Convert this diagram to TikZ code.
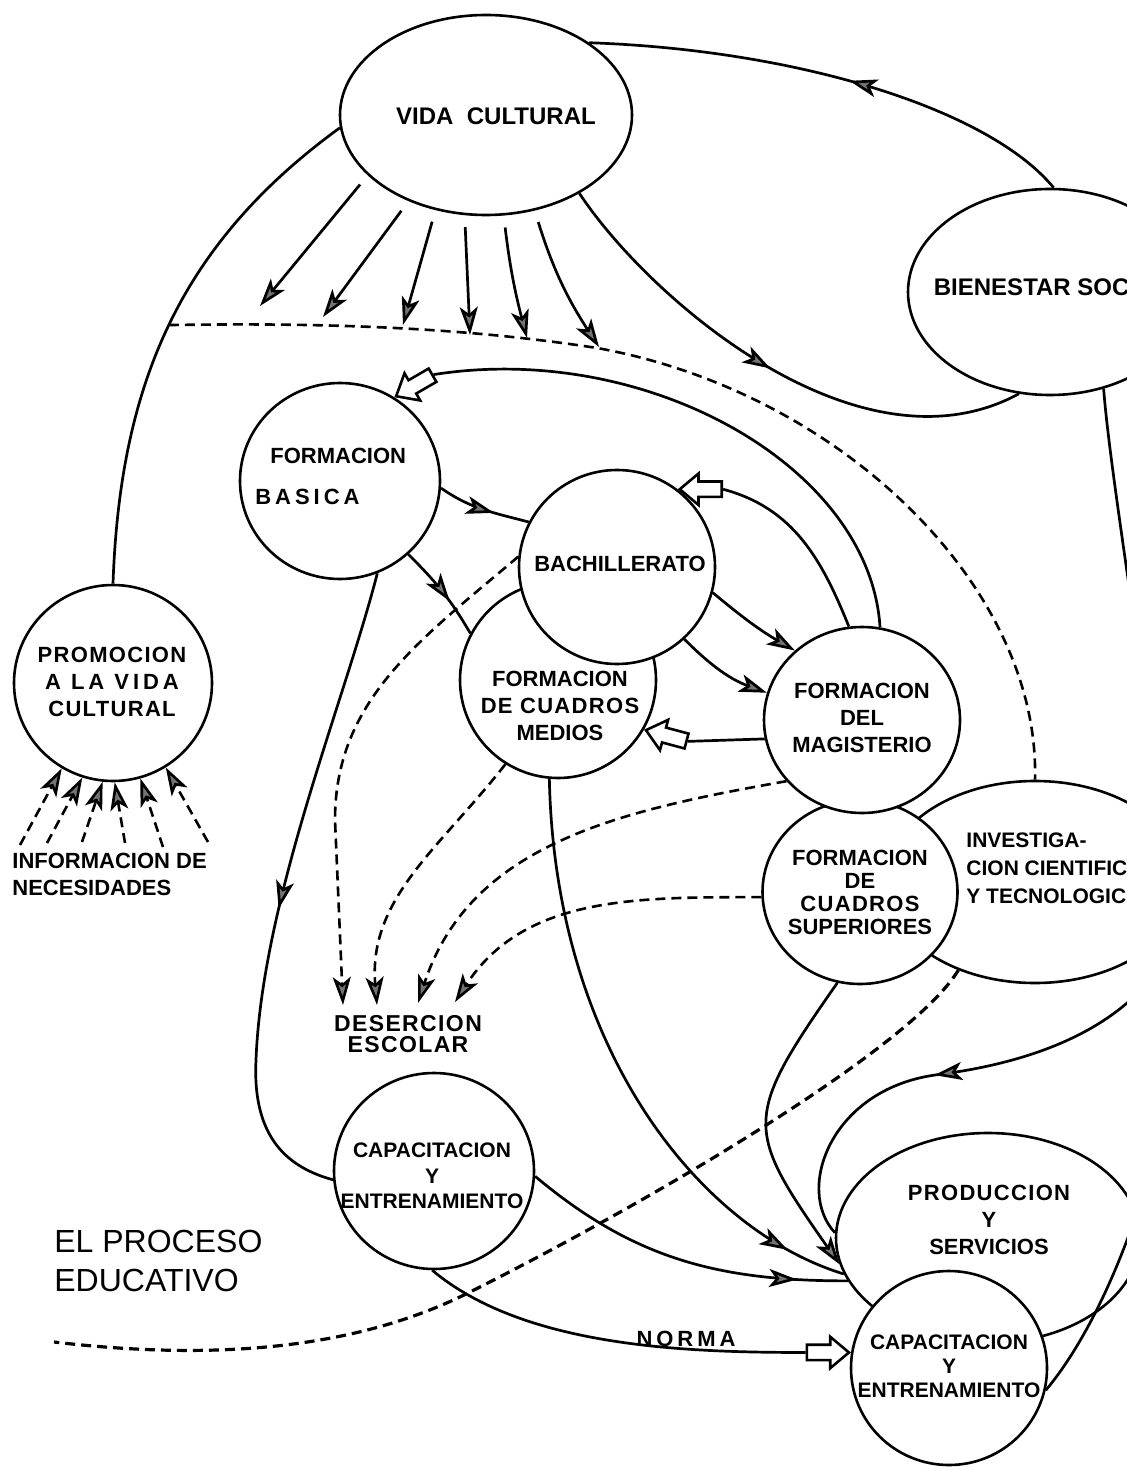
\documentclass[tikz,border=0pt]{standalone}
\usepackage{fontspec}
\setmainfont{Liberation Sans}
\newfontfamily\spacedfont[LetterSpace=6]{Liberation Sans}
\newfontfamily\widefont[LetterSpace=18]{Liberation Sans}
\usetikzlibrary{arrows.meta,shapes.geometric,shapes.arrows,decorations.markings}

\tikzset{
  circ/.style={draw, ellipse, line width=1.3pt, fill=white, inner sep=0pt},
  lbl/.style={inner sep=0pt, align=center, font=\fontsize{11}{13.5}\selectfont\bfseries},
  conn/.style={line width=1.35pt},
  dsh/.style={line width=1.3pt, dash pattern=on 5pt off 3pt},
  grarr/.tip={Stealth[length=14pt, width=9pt, inset=3.5pt, fill=black!55]},
  midarrow/.style={postaction={decorate}, decoration={markings, mark=at position #1 with {\arrow{grarr}}}},
  openarr/.style={draw, single arrow, fill=white, line width=1.3pt, inner xsep=0pt, inner ysep=3.2pt, minimum height=21pt, minimum width=0pt, single arrow head extend=4pt, single arrow tip angle=80}
}

\begin{document}
\begin{tikzpicture}[x=0.5pt, y=-0.5pt]
\useasboundingbox (0,0) rectangle (1127,1470);
\clip (0,0) rectangle (1127,1470);

\node[circ, minimum width=146pt, minimum height=100pt] (vida) at (486,115) {};
\node[circ, minimum width=142pt, minimum height=103pt] (bien) at (1050,292) {};
\node[circ, minimum width=100pt, minimum height=98pt] (basica) at (340,481) {};
\node[circ, minimum width=98pt, minimum height=98pt] (medios) at (558,680) {};
\node[circ, minimum width=98pt, minimum height=97pt] (bach) at (617,567) {};
\node[circ, minimum width=150pt, minimum height=101pt] (inv) at (1035,882) {};
\node[circ, minimum width=97.5pt, minimum height=92pt] (sup) at (860,892) {};
\node[circ, minimum width=98pt, minimum height=93pt] (mag) at (862,720) {};
\node[circ, minimum width=99pt, minimum height=98pt] (prom) at (113,683) {};
\node[circ, minimum width=100pt, minimum height=98pt] (capL) at (434,1171) {};
\node[circ, minimum width=152pt, minimum height=105pt] (prod) at (988,1238) {};
\node[circ, minimum width=98pt, minimum height=97pt] (capR) at (949,1368) {};

\node[lbl, font=\fontsize{12}{15}\selectfont\bfseries] (vidaT) at (496,116) {VIDA\ \ CULTURAL};
\node[lbl, font=\fontsize{12}{14}\selectfont\bfseries] (bienT) at (1051,287) {BIENESTAR SOCIAL};
\node[lbl, anchor=west, align=left] (basicaT) at (255,476) {\hspace*{7.5pt}FORMACION\\[7pt]{\widefont\bfseries BASICA}};
\node[lbl] (bachT) at (620,564) {BACHILLERATO};
\node[lbl] (mediosT) at (560,706) {FORMACION\\{\spacedfont\bfseries DE CUADROS}\\MEDIOS};
\node[lbl] (magT) at (862,718) {FORMACION\\DEL\\MAGISTERIO};
\node[lbl, font=\fontsize{11}{11.5}\selectfont\bfseries] (supT) at (860,892) {FORMACION\\DE\\{\spacedfont\bfseries CUADROS}\\SUPERIORES};
\node[lbl, anchor=west, align=left, font=\fontsize{10.5}{14}\selectfont\bfseries] (invT) at (966,868) {INVESTIGA-\\CION CIENTIFICA\\Y TECNOLOGICA};
\node[lbl] (promT) at (112,682) {{\spacedfont\bfseries PROMOCION}\\{\widefont\bfseries A LA\ VIDA}\\{\spacedfont\bfseries CULTURAL}};
\node[lbl, font=\fontsize{10.5}{12.8}\selectfont\bfseries] (capLT) at (432,1176) {CAPACITACION\\Y\\ENTRENAMIENTO};
\node[lbl] (prodT) at (989,1220) {{\spacedfont\bfseries PRODUCCION}\\Y\\SERVICIOS};
\node[lbl, font=\fontsize{10.5}{12}\selectfont\bfseries] (capRT) at (949,1366) {CAPACITACION\\Y\\ENTRENAMIENTO};
\node[lbl, anchor=west, align=left] (info) at (12,874) {INFORMACION DE\\NECESIDADES};
\node[lbl, font=\fontsize{11.5}{10.5}\selectfont\bfseries] (des) at (408,1034) {{\spacedfont\bfseries DESERCION}\\{\spacedfont\bfseries ESCOLAR}};
\node[lbl, anchor=south] (norma) at (686,1347) {{\widefont\bfseries NORMA}};
\node[lbl, anchor=west, align=left, font=\fontsize{16}{19.5}\selectfont] (proc) at (54,1261) {EL PROCESO\\EDUCATIVO};

\node[openarr, rotate=210, anchor=tip] (oa1) at (basica.57) {};
\node[openarr, rotate=180, anchor=tip] (oa2) at (bach.52) {};
\node[openarr, rotate=165, anchor=tip] (oa3) at (medios.-30) {};
\node[openarr, rotate=0, anchor=tip] (oa4) at (capR.171) {};

\coordinate (f1) at (260,306);
\coordinate (f2) at (323,317);
\coordinate (f3) at (403,325);
\coordinate (f4) at (470,335);
\coordinate (f5) at (527,338);
\coordinate (f6) at (599,347);
\coordinate (i1) at (20,845);
\coordinate (i2) at (47,843);
\coordinate (i3) at (82,842);
\coordinate (i4) at (125,843);
\coordinate (i5) at (163,847);
\coordinate (i6) at (208,842);
\coordinate (d1) at (343,1005);
\coordinate (d2) at (377,1005);
\coordinate (d3) at (418,1003);
\coordinate (d4) at (455,1002);
\coordinate (pe) at (54,1342);

\draw[conn, midarrow=0.47] (bien.88) .. controls (990,110) and (800,50) .. (vida.35);
\draw[conn, midarrow=0.5] (vida.-40) .. controls (650,300) and (860,480) .. (bien.-107);
\draw[conn] (vida.185) to[out=216, in=88] coordinate[pos=0.5] (dashA) (prom.north);
\draw[dsh] (dashA) .. controls (350,322) and (480,330) .. (597,348) .. controls (841,392) and (1040,587) .. (inv.north);

\draw[conn, -{grarr}, shorten <=6pt] (vida.-153) -- (f1);
\draw[conn, -{grarr}, shorten <=6pt] (vida.-132) -- (f2);
\draw[conn, -{grarr}, shorten <=6pt] (vida.-118) -- (f3);
\draw[conn, -{grarr}, shorten <=6pt] (vida.-102) -- (f4);
\draw[conn, -{grarr}, shorten <=6pt] (vida.-80) to[bend right=4] (f5);
\draw[conn, -{grarr}, shorten <=6pt] (vida.-63) to[bend right=8] (f6);

\draw[dsh, -{grarr}] (i1) -- (prom.-121);
\draw[dsh, -{grarr}] (i2) -- (prom.-108);
\draw[dsh, -{grarr}] (i3) -- (prom.-96);
\draw[dsh, -{grarr}] (i4) -- (prom.-89);
\draw[dsh, -{grarr}] (i5) -- (prom.-74);
\draw[dsh, -{grarr}] (i6) -- (prom.-58);

\draw[conn] (mag.79) .. controls (870,466) and (646,341) .. (oa1.tail);
\draw[conn] (mag.98) to[out=112, in=-15] (oa2.tail);
\draw[conn] (mag.191) -- (oa3.tail);
\draw[conn] (capL.-91) to[out=-40, in=180, looseness=0.8] (oa4.tail);

\draw[conn, midarrow=0.62] (basica.-4) to[out=-35, in=165] (bach.153);
\draw[conn, midarrow=0.62] (basica.-47) to[out=-45, in=120] (medios.152);
\draw[conn, midarrow=0.53] (basica.-68) .. controls (345,700) and (262,900) .. (256,1060) .. controls (252,1140) and (290,1168) .. (capL.185);
\draw[conn, -{grarr}] (bach.-15) to[out=-40, in=150] (mag.134);
\draw[conn, -{grarr}] (bach.-47) to[out=-45, in=160] (mag.164);

\draw[dsh, -{grarr}] (bach.174) .. controls (420,640) and (335,700) .. (335,820) -- (d1);
\draw[dsh, -{grarr}] (medios.-122) to[out=-128, in=95] (d2);
\draw[dsh, -{grarr}] (mag.-141) to[out=190, in=72] (d3);
\draw[dsh, -{grarr}] (sup.183) to[out=180, in=57] (d4);

\draw[conn, midarrow=0.9] (medios.-95) .. controls (555,1050) and (700,1230) .. (prod.194);
\draw[conn, midarrow=0.85] (capL.-3) to[out=-40, in=180] (prod.197);
\draw[conn, -{grarr}] (sup.-104) to[out=-125, in=125, looseness=1.5] (prod.190);
\draw[conn, midarrow=-112pt] (bien.-61) .. controls (1112,500) and (1170,820) .. (1170,950) .. controls (1130,1025) and (1040,1062) .. (935,1075) .. controls (830,1090) and (795,1190) .. (prod.178);
\draw[conn] (capR.-13) .. controls (1130,1290) and (1200,1050) .. (inv.-20);
\draw[dsh, line width=1.6pt] (inv.-131) .. controls (910,1050) and (640,1207) .. (468,1293) .. controls (334,1360) and (174,1356) .. (pe);
\end{tikzpicture}
\end{document}
